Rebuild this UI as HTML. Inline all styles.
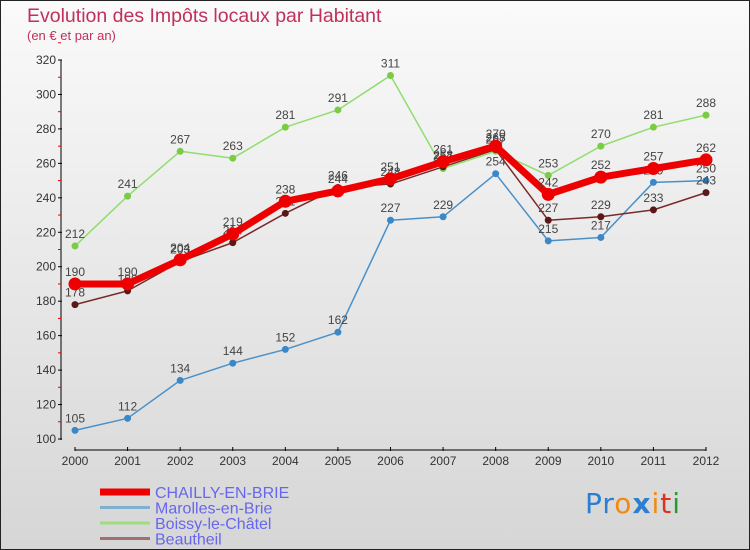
<!DOCTYPE html>
<html><head><meta charset="utf-8"><style>
body{margin:0}
#wrap{position:relative;width:748px;height:548px;border:1px solid #222;background:linear-gradient(#fafafa,#d6d6d6);overflow:hidden;font-family:"Liberation Sans",sans-serif}
.t{position:absolute;white-space:nowrap}
</style></head><body>
<div id="wrap">
<div class="t" style="left:26px;top:4px;font-size:19.5px;color:#c0305a">Evolution des Impôts locaux par Habitant</div>
<div class="t" style="left:26px;top:27px;font-size:13px;color:#c0305a">(en € et par an)</div>
<svg id="svg" width="750" height="550" style="position:absolute;left:-1px;top:-1px"></svg>
<div class="t" style="left:584px;top:486px;font-size:28px;font-family:'DejaVu Sans',sans-serif;letter-spacing:1px"><span style="color:#2a7fd0">Pr</span><span style="color:#f08a10">o</span><span style="color:#2a7fd0;font-weight:bold">x</span><span style="color:#f08a10">i</span><span style="color:#e03020">t</span><span style="color:#2a9a30">i</span></div>
</div>
<script>
const years=[2000,2001,2002,2003,2004,2005,2006,2007,2008,2009,2010,2011,2012];
const chailly=[190,190,204,219,238,244,251,261,270,242,252,257,262];
const marolles=[105,112,134,144,152,162,227,229,254,215,217,249,250];
const boissy=[212,241,267,263,281,291,311,257,267,253,270,281,288];
const beautheil=[178,186,203,214,231,246,248,258,268,227,229,233,243];
const yTicks=[100,120,140,160,180,200,220,240,260,280,300,320];
const names=["CHAILLY-EN-BRIE","Marolles-en-Brie","Boissy-le-Châtel","Beautheil"];
const svg=document.getElementById('svg');const NS="http://www.w3.org/2000/svg";
const x=i=>75+i*(706-75)/(years.length-1);
const y=v=>439-(v-100)*(379/220);
function mk(t,a,p){const e=document.createElementNS(NS,t);for(const k in a)e.setAttribute(k,a[k]);(p||svg).appendChild(e);return e;}
let ax=mk('line',{x1:61,y1:60,x2:61,y2:440,stroke:'#000'});


let xa=mk('line',{x1:75,y1:450,x2:706,y2:450,stroke:'#000'});


yTicks.forEach(v=>{mk('line',{x1:58,y1:y(v),x2:62,y2:y(v),stroke:'#000'});
 mk('line',{x1:58,y1:y(v+10),x2:61,y2:y(v+10),stroke:'#e00'});
 const t=mk('text',{x:56,y:y(v)+4,'text-anchor':'end','font-size':12,fill:'#333','font-family':'Liberation Sans'});t.textContent=v;
 
 });
years.forEach((yr,i)=>{mk('line',{x1:x(i),y1:447,x2:x(i),y2:451,stroke:'#000'});
 const t=mk('text',{x:x(i),y:465,'text-anchor':'middle','font-size':12,fill:'#333','font-family':'Liberation Sans'});t.textContent=yr;
 
 });
const series=[[marolles,'#4a90c8','#3a88c8',1.5,3.5],[boissy,'#90dd70','#7acc44',1.5,3.5],[beautheil,'#7a2a2a','#5a1818',1.5,3.5],[chailly,'#ee0000','#ee0000',7,6.5]];
const order=[1,2,3,0];
series.forEach((s,k)=>{const [d,lc,pc,w,r]=s;const g=mk('g',{});
 
 
 mk('polyline',{points:d.map((v,i)=>x(i)+','+y(v)).join(' '),fill:'none',stroke:lc,'stroke-width':w,'stroke-linejoin':'round'},g);
 d.forEach((v,i)=>{const c=mk('circle',{cx:x(i),cy:y(v),r:r,fill:pc},g);
  
  
  const t=mk('text',{x:x(i),y:y(v)-8,'text-anchor':'middle','font-size':12,fill:'#444','font-family':'Liberation Sans'},g);t.textContent=v;});});
const lc=['#ee0000','#80b0d0','#a0dd80','#a07070'],lw=[7,3,3,3];
names.forEach((n,i)=>{const yy=492+i*15.5;
 const l=mk('line',{x1:100,y1:yy,x2:150,y2:yy,stroke:lc[i],'stroke-width':lw[i]});
 
 
 const t=mk('text',{x:155,y:yy+6,'font-size':16,fill:'#6666ee','font-family':'Liberation Sans'});t.textContent=n;
 
 });
</script>
</body></html>
